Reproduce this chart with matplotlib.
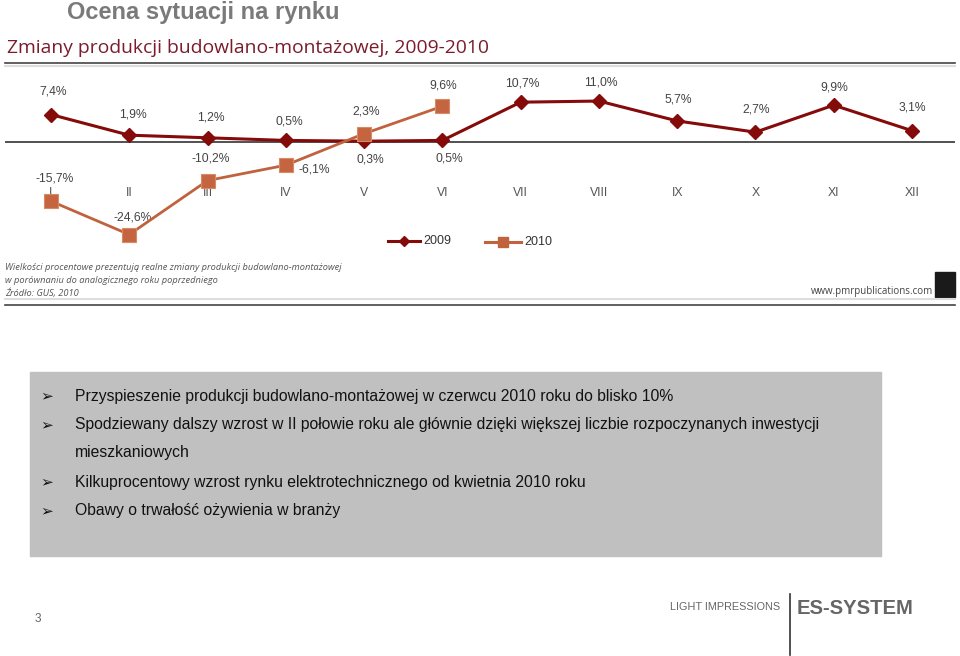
import matplotlib
matplotlib.use("Agg")
import matplotlib.pyplot as plt
from matplotlib.lines import Line2D
from matplotlib.patches import Rectangle

# chart data
months = ['I', 'II', 'III', 'IV', 'V', 'VI', 'VII', 'VIII', 'IX', 'X', 'XI', 'XII']
y2009 = [7.4, 1.9, 1.2, 0.5, 0.3, 0.5, 10.7, 11.0, 5.7, 2.7, 9.9, 3.1]
y2010 = [-15.7, -24.6, -10.2, -6.1, 2.3, 9.6]
labels2009 = ['7,4%', '1,9%', '1,2%', '0,5%', '0,3%', '0,5%', '10,7%', '11,0%', '5,7%', '2,7%', '9,9%', '3,1%']
labels2010 = ['-15,7%', '-24,6%', '-10,2%', '-6,1%', '2,3%', '9,6%']

bullets = [
    "Przyspieszenie produkcji budowlano-montażowej w czerwcu 2010 roku do blisko 10%",
    "Spodziewany dalszy wzrost w II połowie roku ale głównie dzięki większej liczbie rozpoczynanych inwestycji",
    "Kilkuprocentowy wzrost rynku elektrotechnicznego od kwietnia 2010 roku",
    "Obawy o trwałość ożywienia w branży",
]

W, H = 960, 656
c2009 = '#850a0a'
c2010 = '#c0623e'
FONT = ['Liberation Sans', 'DejaVu Sans']

fig = plt.figure(figsize=(W / 100, H / 100), dpi=100)
fig.patch.set_facecolor('white')

def fx(px):
    return px / W

def fy(py):
    return 1 - py / H

# slide title
fig.text(fx(67), fy(12), "Ocena sytuacji na rynku", family=FONT, weight='bold',
         fontsize=17, color='#7a7a7a', va='center', ha='left')

# chart header
fig.text(fx(7), fy(48), "Zmiany produkcji budowlano-montażowej, 2009-2010", family='Open Sans',
         fontsize=13.9, color='#7b1c2c', va='center', ha='left')
fig.add_artist(Line2D([fx(5), fx(955)], [fy(63), fy(63)], color='#444444', lw=1.2))
fig.add_artist(Line2D([fx(5), fx(955)], [fy(66), fy(66)], color='#dddddd', lw=1.5))

# plotting area
x_per_px = 11 / (912 - 51)
px_per_pct = 3.75
zero_px = 142.3
top_px, bot_px = 70, 250
ax = fig.add_axes([fx(5), fy(bot_px), fx(950), (bot_px - top_px) / H])
ax.set_xlim(1 - 46 * x_per_px, 12 + 43 * x_per_px)
ax.set_ylim((zero_px - bot_px) / px_per_pct, (zero_px - top_px) / px_per_pct)
ax.axis('off')
ax.axhline(0, color='#222222', lw=1.1)

xs = list(range(1, 13))
ax.plot(xs, y2009, color=c2009, lw=2.2, marker='D', markersize=7.5, zorder=3)
ax.plot(xs[:len(y2010)], y2010, color=c2010, lw=2.0, marker='s', markersize=10,
        markerfacecolor='#c4653f', markeredgecolor='#d88a66', markeredgewidth=0.8, zorder=4)

for i, m in enumerate(months):
    ax.text(xs[i], (zero_px - 193) / px_per_pct, m, family=FONT, fontsize=8.8,
            color='#555555', ha='center', va='center')

off2009 = [(2, 23), (4, 21), (3, 20), (3, 19), (6, -18), (7, -18),
           (2, 19), (2, 19), (1, 21), (1, 23), (1, 18), (0, 23)]
for i, lab in enumerate(labels2009):
    ax.annotate(lab, (xs[i], y2009[i]), xytext=off2009[i], textcoords='offset pixels',
                family=FONT, fontsize=8.7, color='#444444', ha='center', va='center')

off2010 = [(4, 23), (3, 17), (3, 22), (28, -4), (2, 22), (1, 21)]
for i, lab in enumerate(labels2010):
    ax.annotate(lab, (xs[i], y2010[i]), xytext=off2010[i], textcoords='offset pixels',
                family=FONT, fontsize=8.7, color='#444444', ha='center', va='center')

# legend drawn by hand at the chart bottom
fig.add_artist(Line2D([fx(388), fx(420)], [fy(241), fy(241)], color=c2009, lw=2.2))
fig.add_artist(Line2D([fx(404)], [fy(241)], color=c2009, marker='D', markersize=5))
fig.text(fx(423), fy(241), "2009", family=FONT, fontsize=9, color='#333333', va='center')
fig.add_artist(Line2D([fx(485), fx(521)], [fy(242), fy(242)], color=c2010, lw=2.2))
fig.add_artist(Line2D([fx(503)], [fy(242)], color=c2010, marker='s', markersize=7))
fig.text(fx(524), fy(242), "2010", family=FONT, fontsize=9, color='#333333', va='center')

# footnote
notes = ["Wielkości procentowe prezentują realne zmiany produkcji budowlano-montażowej",
         "w porównaniu do analogicznego roku poprzedniego",
         "Źródło: GUS, 2010"]
for i, t in enumerate(notes):
    fig.text(fx(5), fy(268 + 12.5 * i), t, family='Open Sans', style='italic', fontsize=6.7,
             color='#555555', va='center')
fig.text(fx(933), fy(292), "www.pmrpublications.com", family='Open Sans', fontsize=7,
         color='#444444', va='center', ha='right')
fig.add_artist(Rectangle((fx(935), fy(297)), fx(20), (297 - 272) / H, color='#1a1a1a'))
fig.add_artist(Line2D([fx(5), fx(955)], [fy(299), fy(299)], color='#dddddd', lw=1.5))
fig.add_artist(Line2D([fx(5), fx(955)], [fy(305), fy(305)], color='#444444', lw=1.2))

# grey text box
fig.add_artist(Rectangle((fx(30), fy(556)), fx(851), (556 - 372) / H, color='#c0c0c0'))
rows = [(396, bullets[0], True), (425, bullets[1], True), (453, "mieszkaniowych", False),
        (482, bullets[2], True), (511, bullets[3], True)]
for py, t, arrow in rows:
    if arrow:
        fig.text(fx(40), fy(py), "➢", family=['DejaVu Sans'], fontsize=11, color='#111111', va='center')
    fig.text(fx(75), fy(py), t, family=FONT, fontsize=11.35, color='#111111', va='center')

# footer
fig.text(fx(38), fy(619), "3", family=FONT, fontsize=8.5, color='#666666', ha='center', va='center')
fig.text(fx(780), fy(607), "LIGHT IMPRESSIONS", family=FONT, fontsize=7.8, color='#666666',
         ha='right', va='center')
fig.add_artist(Line2D([fx(790), fx(790)], [fy(594), fy(655)], color='#333333', lw=1.2))
fig.text(fx(797), fy(608), "ES-SYSTEM", family=FONT, weight='bold', fontsize=14.6,
         color='#666666', ha='left', va='center')

fig.savefig("out.png", dpi=100, facecolor='white')
